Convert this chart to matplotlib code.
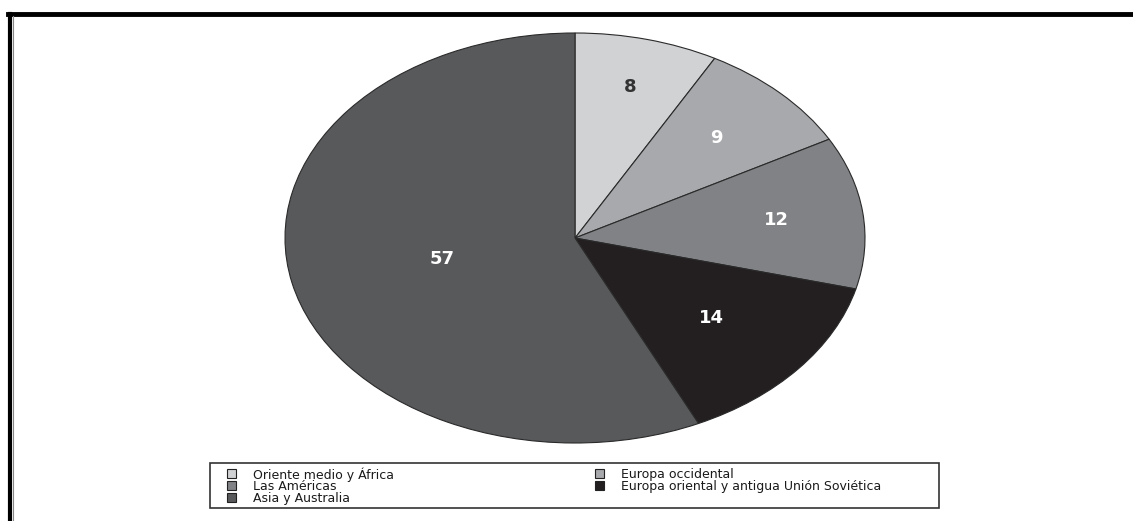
import numpy as np
import matplotlib.pyplot as plt
from matplotlib.lines import Line2D
from matplotlib.patches import Rectangle

# === Datos ===
regions = [
    "Oriente medio y África",
    "Europa occidental",
    "Las Américas",
    "Europa oriental y antigua Unión Soviética",
    "Asia y Australia",
]
shares = [8, 9, 12, 14, 57]
colors = ["#d1d2d4", "#a7a9ac", "#808285", "#231f20", "#58595b"]
text_colors = ["#333333", "white", "white", "white", "white"]
# legend: (column, row) for each region
legend_slots = [(0, 0), (1, 0), (0, 1), (1, 1), (0, 2)]

plt.rcParams["font.family"] = ["DejaVu Sans"]

W, H = 1133, 521
fig = plt.figure(figsize=(W / 100, H / 100), dpi=100)


def fx(x):
    return x / W


def fy(y):
    # pixel rows counted from the top
    return (H - y) / H


# pie as a stretched ellipse: axes box = ellipse bounds
ax = fig.add_axes([fx(285), fy(443), 580 / W, 410 / H])
wedges, _ = ax.pie(shares, colors=colors, startangle=90, counterclock=False,
                   wedgeprops=dict(edgecolor="#2a2a2a", linewidth=0.8))
ax.set_aspect("auto")
ax.set_xlim(-1, 1)
ax.set_ylim(-1, 1)

# value labels inside each wedge
label_r = [0.76, 0.69, 0.70, 0.61, 0.47]
for w, val, tc, r in zip(wedges, shares, text_colors, label_r):
    ang = np.deg2rad((w.theta1 + w.theta2) / 2)
    ax.text(r * np.cos(ang), r * np.sin(ang), str(val), ha="center", va="center",
            fontsize=13, fontweight="bold", color=tc)

# legend box drawn by hand (tight rows, wide second column)
fig.add_artist(Rectangle((fx(210), fy(508)), 729 / W, 45 / H, transform=fig.transFigure,
                         facecolor="white", edgecolor="#333333", linewidth=1.2))
col_x = [227, 595]
row_y = [473, 485, 497]
box = 9
for name, col, (c, r) in zip(regions, colors, legend_slots):
    x0, yc = col_x[c], row_y[r]
    fig.add_artist(Rectangle((fx(x0), fy(yc + box / 2)), box / W, box / H,
                             transform=fig.transFigure, facecolor=col,
                             edgecolor="#222222", linewidth=0.8))
    fig.text(fx(x0 + 26), fy(yc), name, ha="left", va="center_baseline",
             fontsize=9, color="#1a1a1a")

# page frame: top and left rules
fig.add_artist(Line2D([fx(8), 1], [fy(14)] * 2, color="black", lw=3.5))
fig.add_artist(Line2D([fx(10)] * 2, [0, fy(14)], color="black", lw=3.0))
fig.add_artist(Line2D([fx(13)] * 2, [0, fy(16)], color="#888888", lw=0.8))

fig.savefig("out.png", dpi=100, facecolor="white")
